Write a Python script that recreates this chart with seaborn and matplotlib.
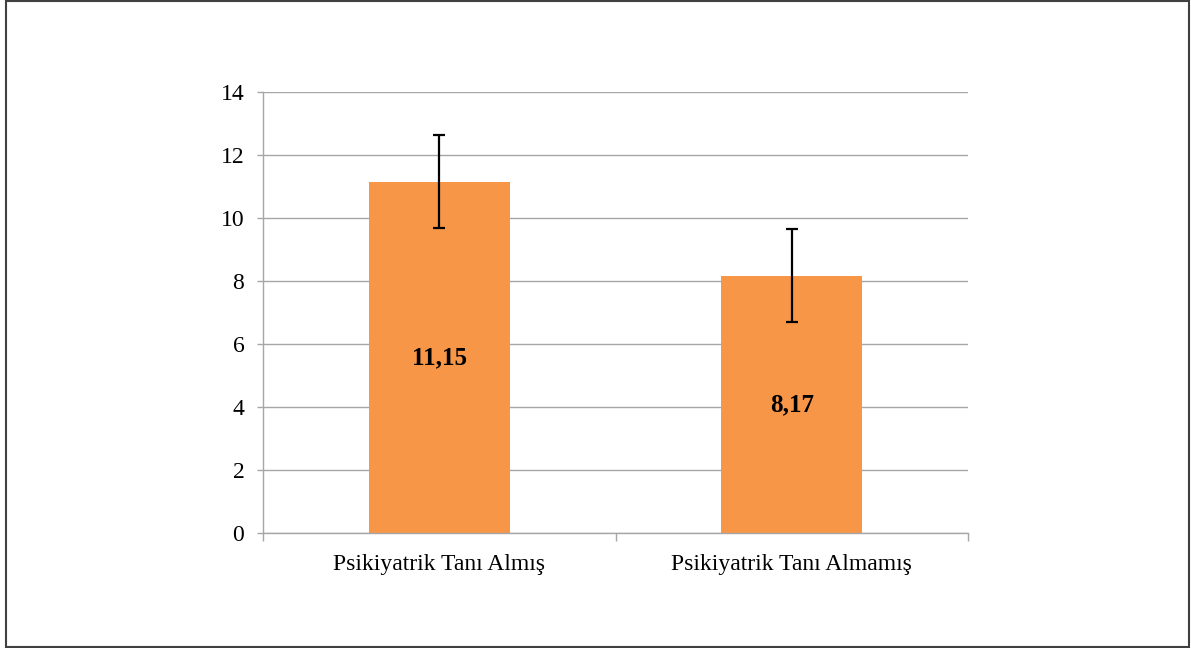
import matplotlib
matplotlib.use("Agg")
import matplotlib.pyplot as plt
import seaborn as sns
import pandas as pd
from matplotlib.patches import Rectangle

categories = ["Psikiyatrik Tanı Almış", "Psikiyatrik Tanı Almamış"]
means = [11.15, 8.17]
errors = [1.48, 1.48]
labels = ["11,15", "8,17"]
yticks = [0, 2, 4, 6, 8, 10, 12, 14]

sns.set_theme(style="white")
plt.rcParams['font.family'] = ['Liberation Serif', 'DejaVu Serif']

df = pd.DataFrame({"cat": categories, "val": means})

fig = plt.figure(figsize=(11.91, 6.48), dpi=100)
ax = fig.add_axes([263/1191, 1-533/648, (968-263)/1191, (533-92)/648])

sns.barplot(data=df, x="cat", y="val", color="#F79646", saturation=1,
            width=0.4, ax=ax, errorbar=None, zorder=2, linewidth=0)
ax.errorbar(range(len(means)), means, yerr=errors, fmt="none", ecolor="black",
            elinewidth=1.6, capsize=4, capthick=1.6, zorder=3)

for i, (m, lab) in enumerate(zip(means, labels)):
    ax.text(i, m / 2, lab, ha="center", va="center", fontsize=18,
            fontweight="bold", color="black", zorder=4)

ax.set_xlim(-0.5, 1.5)
ax.set_ylim(0, 14)
ax.set_yticks(yticks)
ax.set_yticklabels([str(t) for t in yticks], fontsize=17)
ax.yaxis.grid(True, color="#A6A6A6", linewidth=1, zorder=0)
ax.set_axisbelow(True)
ax.set_xlabel("")
ax.set_ylabel("")
ax.tick_params(axis="x", which="major", length=0, labelsize=17, pad=15, labelcolor="black")
ax.set_xticks([-0.5, 0.5, 1.5], minor=True)
ax.tick_params(axis="x", which="minor", length=6, color="#A6A6A6", width=1, direction="out", bottom=True)
ax.tick_params(axis="y", which="major", length=4.5, color="#A6A6A6", width=1, direction="out", left=True, pad=9, labelcolor="black")

for s in ["top", "right"]:
    ax.spines[s].set_visible(False)
for s in ["left", "bottom"]:
    ax.spines[s].set_color("#A6A6A6")
    ax.spines[s].set_linewidth(1)

fig.patches.append(Rectangle((6/1191, 1/648), (1189-6)/1191, (647-1)/648,
                             transform=fig.transFigure, fill=False,
                             edgecolor="#404040", linewidth=1.5))

fig.savefig("out.png", dpi=100)
